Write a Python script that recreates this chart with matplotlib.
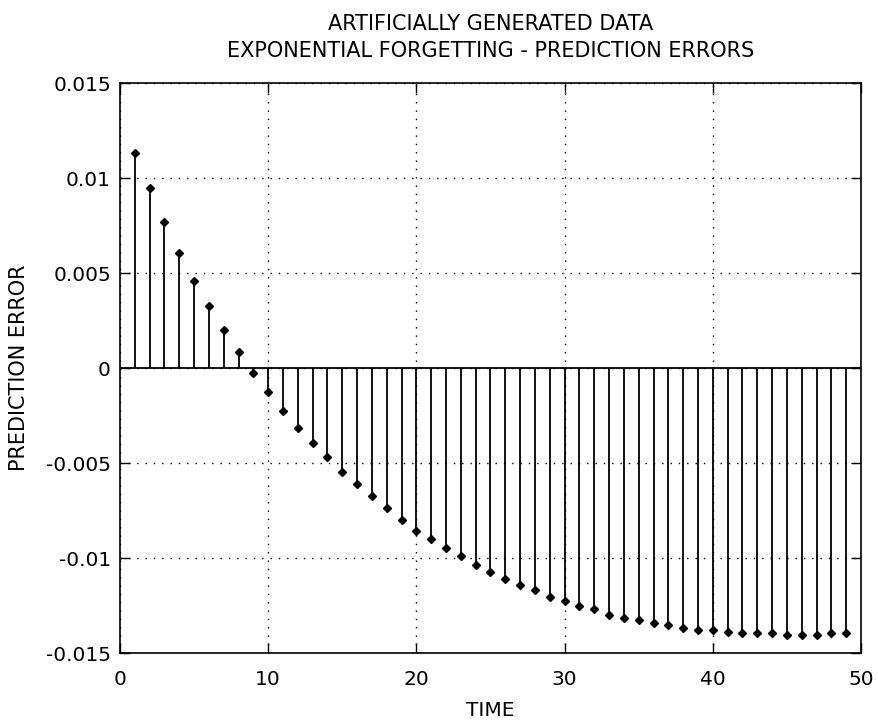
import numpy as np
import matplotlib.pyplot as plt

# prediction error at each time step (exponential forgetting run)
time = np.arange(1, 50)
pred_error = np.array([
    0.0113, 0.0095, 0.0077, 0.00605, 0.0046, 0.00325, 0.0020, 0.00082, -0.00026,
    -0.00126, -0.00225, -0.00316, -0.00396, -0.00468, -0.00549, -0.00612,
    -0.00675, -0.00739, -0.00802, -0.00856, -0.0090, -0.00946, -0.00991,
    -0.01036, -0.01072, -0.01109, -0.01144, -0.0117, -0.01207, -0.01225,
    -0.01253, -0.0127, -0.01298, -0.01316, -0.01325, -0.01344, -0.01353,
    -0.0137, -0.01379, -0.01379, -0.01388, -0.01396, -0.01396, -0.01396,
    -0.01405, -0.01405, -0.01405, -0.01396, -0.01396,
])

xticks = [0, 10, 20, 30, 40, 50]
yticks = [-0.015, -0.01, -0.005, 0, 0.005, 0.01, 0.015]
ytick_labels = ["-0.015", "-0.01", "-0.005", "0", "0.005", "0.01", "0.015"]

plt.rcParams['font.family'] = 'DejaVu Sans'

fig = plt.figure(figsize=(8.79, 7.24), dpi=100)
ax = fig.add_axes([0.1365, 0.098, 0.843, 0.7873])

markerline, stemlines, baseline = ax.stem(time, pred_error, linefmt='k-',
                                          markerfmt='kD', basefmt='k-')
stemlines.set_linewidth(1.3)
markerline.set_markersize(4.5)
baseline.set_linewidth(1.3)
baseline.set_xdata([0, 50])

ax.set_xlim(0, 50)
ax.set_ylim(-0.015, 0.015)
ax.set_xticks(xticks)
ax.set_yticks(yticks)
ax.set_yticklabels(ytick_labels)
ax.tick_params(direction='in', length=7, width=1, top=True, right=True,
               labelsize=14.5, colors='black')
ax.tick_params(axis='x', pad=12)
ax.tick_params(axis='y', pad=6.5)
for s in ax.spines.values():
    s.set_linewidth(1.2)

ax.grid(True, linestyle=(0, (1, 5)), color='black', linewidth=1)
ax.set_axisbelow(True)

ax.set_xlabel("TIME", fontsize=14.5, labelpad=9)
ax.set_ylabel("PREDICTION ERROR", fontsize=15, labelpad=12)
ax.set_title("ARTIFICIALLY GENERATED DATA\nEXPONENTIAL FORGETTING - PREDICTION ERRORS",
             fontsize=15, linespacing=1.4, pad=19)

fig.savefig("out.png", dpi=100)
